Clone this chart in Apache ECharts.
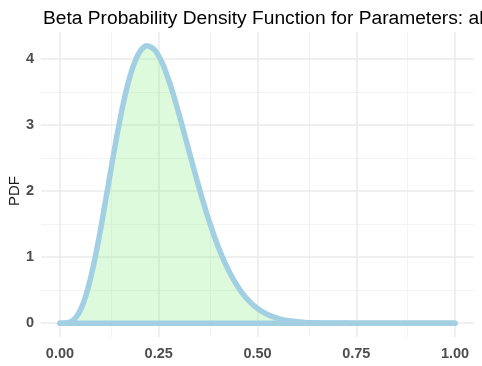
<!DOCTYPE html>
<html>
<head>
<meta charset="utf-8">
<script src="https://cdn.jsdelivr.net/npm/echarts@6/dist/echarts.min.js"></script>
<style>html,body{margin:0;padding:0;background:#fff;}#c{width:482px;height:366px;}</style>
</head>
<body>
<div id="c"></div>
<script>
var xValues = [0,0.02,0.04,0.06,0.08,0.10,0.12,0.14,0.16,0.18,0.20,0.22,0.24,0.26,0.28,0.30,0.32,0.34,0.36,0.38,0.40,0.42,0.44,0.46,0.48,0.50,0.52,0.54,0.56,0.58,0.60,0.62,0.64,0.66,0.68,0.70,0.72,0.74,0.76,0.80,0.85,0.90,0.95,1.00];
var pdfValues = [0,0.007,0.084,0.317,0.741,1.330,2.013,2.704,3.319,3.794,4.091,4.202,4.137,3.924,3.597,3.194,2.755,2.312,1.888,1.503,1.166,0.882,0.650,0.467,0.326,0.222,0.147,0.094,0.058,0.035,0.020,0.011,0.006,0.003,0.0015,0.0007,0.0003,0.0001,0,0,0,0,0,0];
var xTicks = [0, 0.25, 0.5, 0.75, 1];
var xMinorTicks = [0.125, 0.375, 0.625, 0.875];
var yTicks = [0, 1, 2, 3, 4];
var yMinorTicks = [0.5, 1.5, 2.5, 3.5];
var xLabels = ['0.00', '0.25', '0.50', '0.75', '1.00'];
var titleText = 'Beta Probability Density Function for Parameters: alpha = 5, beta = 15';
var yAxisTitle = 'PDF';

var curve = xValues.map(function (x, i) { return [x, pdfValues[i]]; });
var baseline = [[xValues[0], 0], [xValues[xValues.length - 1], 0]];

var gridLines = [];
xMinorTicks.forEach(function (v) { gridLines.push({ xAxis: v, lineStyle: { color: '#f3f3f3', width: 1, type: 'solid' } }); });
yMinorTicks.forEach(function (v) { gridLines.push({ yAxis: v, lineStyle: { color: '#f3f3f3', width: 1, type: 'solid' } }); });
xTicks.forEach(function (v) { gridLines.push({ xAxis: v, lineStyle: { color: '#ebebeb', width: 1.5, type: 'solid' } }); });
yTicks.forEach(function (v) { gridLines.push({ yAxis: v, lineStyle: { color: '#ebebeb', width: 1.5, type: 'solid' } }); });

var chart = echarts.init(document.getElementById('c'), null, { renderer: 'canvas' });
chart.setOption({
  animation: false,
  backgroundColor: '#ffffff',
  title: {
    text: titleText,
    left: 38, top: 4,
    textStyle: { fontFamily: 'Liberation Sans, Arial, sans-serif', fontSize: 19.2, fontWeight: 'normal', color: '#000000' }
  },
  graphic: [{
    type: 'text', x: 15, y: 191, rotation: Math.PI / 2,
    style: { text: yAxisTitle, fontFamily: 'Liberation Sans, Arial, sans-serif', fontSize: 15, fill: '#1a1a1a', align: 'center', verticalAlign: 'middle' }
  }],
  grid: { left: 41, right: 8, top: 32, bottom: 29, containLabel: false, outerBoundsMode: 'none' },
  xAxis: {
    type: 'value', min: -0.048, max: 1.048,
    axisLine: { show: false }, axisTick: { show: false, customValues: xTicks },
    splitLine: { show: false },
    axisLabel: {
      customValues: xTicks, margin: 9,
      formatter: function (v) { var i = xTicks.indexOf(v); return i >= 0 ? xLabels[i] : ''; },
      fontFamily: 'Liberation Sans, Arial, sans-serif', fontSize: 14.5, fontWeight: 'bold', color: '#4d4d4d'
    }
  },
  yAxis: {
    type: 'value', min: -0.21, max: 4.41,
    axisLine: { show: false }, axisTick: { show: false, customValues: yTicks },
    splitLine: { show: false },
    axisLabel: {
      customValues: yTicks, margin: 7,
      formatter: function (v) { return String(v); },
      fontFamily: 'Liberation Sans, Arial, sans-serif', fontSize: 14.5, fontWeight: 'bold', color: '#4d4d4d'
    }
  },
  series: [
    {
      type: 'line', data: baseline, symbol: 'none', silent: true, z: 0,
      lineStyle: { width: 0, opacity: 0 },
      markLine: { silent: true, z: 0, symbol: ['none', 'none'], label: { show: false }, data: gridLines, animation: false }
    },
    {
      type: 'line', data: curve, symbol: 'none', smooth: 0.3, z: 3,
      areaStyle: { color: '#90EE90', opacity: 0.3 },
      lineStyle: { color: '#a2d0e2', width: 5.5, cap: 'round', join: 'round' }
    },
    {
      type: 'line', data: baseline, symbol: 'none', z: 4,
      lineStyle: { color: '#a2d0e2', width: 5.5, cap: 'round' }
    }
  ]
});
</script>
</body>
</html>
